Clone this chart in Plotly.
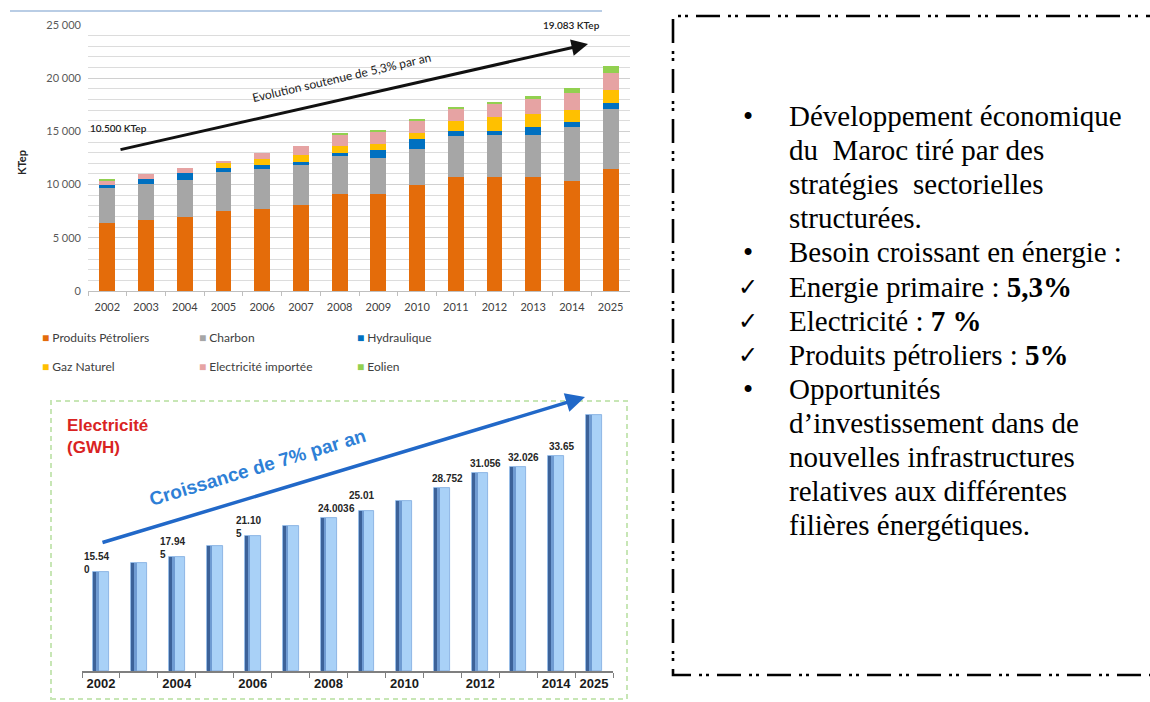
import numpy as np
import plotly.graph_objects as go

# ---------------- data ----------------
years = ["2002", "2003", "2004", "2005", "2006", "2007", "2008",
         "2009", "2010", "2011", "2012", "2013", "2014", "2025"]

# Primary energy consumption by source (KTep)
petroliers = [6400, 6700, 7000, 7550, 7680, 8080, 9090, 9120, 9930, 10690, 10740, 10690, 10340, 11500]
charbon = [3250, 3330, 3450, 3660, 3760, 3760, 3630, 3410, 3420, 3880, 3920, 4010, 5050, 5580]
hydraulique = [310, 470, 630, 320, 370, 310, 280, 720, 910, 500, 410, 750, 470, 560]
gaz_naturel = [0, 0, 0, 470, 570, 600, 630, 570, 620, 910, 1260, 1160, 1150, 1250]
elec_importee = [470, 500, 440, 190, 560, 910, 1100, 1160, 1100, 1130, 1250, 1410, 1600, 1630]
eolien = [70, 0, 0, 0, 0, 0, 90, 150, 190, 210, 210, 340, 473, 630]

series_names = ["Produits Pétroliers", "Charbon", "Hydraulique",
                "Gaz Naturel", "Electricité importée", "Eolien"]
series_colors = ["#e46c0a", "#a6a6a6", "#0070c0", "#ffc000", "#e6a3a3", "#92d050"]

y_ticks = [0, 5000, 10000, 15000, 20000, 25000]
y_ticktext = ["0", "5 000", "10 000", "15 000", "20 000", "25 000"]

# Electricity consumption (GWh)
electricite = [15540, 16880, 17945, 19590, 21105, 22730, 24003,
               25016, 26700, 28752, 31056, 32026, 33650, 40100]
elec_labels = ["15.54<br>0", "", "17.94<br>5", "", "21.10<br>5", "", "24.003",
               "25.01<br>6", "", "28.752", "31.056", "32.026", "33.65", ""]
elec_ticktext = ["2002", "", "2004", "", "2006", "", "2008",
                 "", "2010", "", "2012", "", "2014", "2025"]

# Text panel
panel_marks = ["•", "", "", "", "•", "✓", "✓", "✓", "•", "", "", "", ""]
panel_lines = [
    "Développement économique",
    "du  Maroc tiré par des",
    "stratégies  sectorielles",
    "structurées.",
    "Besoin croissant en énergie :",
    "Energie primaire : <b>5,3%</b>",
    "Electricité : <b>7 %</b>",
    "Produits pétroliers : <b>5%</b>",
    "Opportunités",
    "d’investissement dans de",
    "nouvelles infrastructures",
    "relatives aux différentes",
    "filières énergétiques.",
]

# ---------------- helpers ----------------
W, H = 1150, 702
n = len(years)


def px(x):
    return x / W


def py(y):
    return 1 - y / H


fig = go.Figure()

# Stacked bars (top chart), stacking done through explicit bases
base = np.zeros(n)
for name, vals, col in zip(series_names,
                           [petroliers, charbon, hydraulique, gaz_naturel, elec_importee, eolien],
                           series_colors):
    vals = np.array(vals, dtype=float)
    fig.add_bar(x=years, y=vals, base=base.copy(), name=name, width=0.41,
                marker=dict(color=col, line=dict(width=0)),
                xaxis="x", yaxis="y", showlegend=False, hoverinfo="skip")
    base += vals

# Electricity bars (bottom chart) with a shaded left edge
fig.add_bar(x=years, y=electricite, width=0.42, xaxis="x2", yaxis="y2",
            marker=dict(color="#a9d1f7", line=dict(color="#7eaade", width=0.8)),
            showlegend=False, hoverinfo="skip")
fig.add_bar(x=years, y=electricite, width=0.08, offset=-0.21, xaxis="x2", yaxis="y2",
            marker=dict(color="#3c6299", line=dict(width=0)),
            showlegend=False, hoverinfo="skip")
fig.add_bar(x=years, y=electricite, width=0.07, offset=-0.13, xaxis="x2", yaxis="y2",
            marker=dict(color="#6f9bd2", line=dict(width=0)),
            showlegend=False, hoverinfo="skip")

annotations = []

# Value labels above the electricity bars
for i, (v, lab) in enumerate(zip(electricite, elec_labels)):
    if not lab:
        continue
    two_lines = "<br>" in lab
    annotations.append(dict(
        x=i, y=v, xref="x2", yref="y2", text=lab, showarrow=False,
        xanchor="left" if two_lines else "center", yanchor="bottom",
        xshift=-19 if two_lines else 5, yshift=-5 if two_lines else 2,
        align="left",
        font=dict(family="Liberation Sans", size=10, color="#262626", weight=700)))

# Legend of the stacked chart
leg_x = [40, 197, 355]
leg_y = [337, 366]
for i, (name, col) in enumerate(zip(series_names, series_colors)):
    annotations.append(dict(
        x=px(leg_x[i % 3]), y=py(leg_y[i // 3]), xref="paper", yref="paper",
        xanchor="left", yanchor="middle", showarrow=False,
        text=f"<span style='color:{col}'>■</span> {name}",
        font=dict(family="Lato", size=12, color="#404040")))

# Trend arrows and their captions
annotations += [
    dict(x=px(588), y=py(44), xref="paper", yref="paper", ax=-469, ay=106,
         showarrow=True, arrowhead=2, arrowsize=1.1, arrowwidth=3, arrowcolor="#111111",
         text=""),
    dict(x=px(341), y=py(77), xref="paper", yref="paper", showarrow=False,
         xanchor="center", yanchor="middle",
         text="Evolution soutenue de 5,3% par an", textangle=-13,
         font=dict(family="Lato", size=12, color="#222222")),
    dict(x=px(88), y=py(128), xref="paper", yref="paper", showarrow=False,
         xanchor="left", yanchor="middle", text="10.500 KTep",
         font=dict(family="Lato", size=10, color="#222222", weight=600)),
    dict(x=px(602), y=py(25), xref="paper", yref="paper", showarrow=False,
         xanchor="right", yanchor="middle", text="19.083 KTep",
         font=dict(family="Lato", size=10, color="#222222", weight=600)),
    dict(x=px(21), y=py(163), xref="paper", yref="paper", showarrow=False,
         xanchor="center", yanchor="middle", text="KTep", textangle=-90,
         font=dict(family="Lato", size=11, color="#262626", weight=700)),
    dict(x=px(585), y=py(397), xref="paper", yref="paper", ax=-484, ay=146,
         showarrow=True, arrowhead=2, arrowsize=1.1, arrowwidth=3.5, arrowcolor="#2168c8",
         text=""),
    dict(x=px(257), y=py(467), xref="paper", yref="paper", showarrow=False,
         xanchor="center", yanchor="middle",
         text="Croissance de 7% par an", textangle=-16.8,
         font=dict(family="Liberation Sans", size=19, color="#2e7fd6", weight=700)),
    dict(x=px(65), y=py(414), xref="paper", yref="paper", showarrow=False,
         xanchor="left", yanchor="top", align="left", text="Electricité<br>(GWH)",
         font=dict(family="Liberation Sans", size=17, color="#d92323", weight=700)),
]

# Text panel on the right
first_center, step, fsize = 116, 34.1, 29
for i, (mark, line) in enumerate(zip(panel_marks, panel_lines)):
    yc = first_center + i * step
    if mark:
        is_bullet = mark == "•"
        annotations.append(dict(
            x=px(748), y=py(yc), xref="paper", yref="paper", showarrow=False,
            xanchor="center", yanchor="middle", text=mark,
            font=dict(family="Liberation Serif" if is_bullet else "DejaVu Sans",
                      size=fsize if is_bullet else 24, color="#000000")))
    annotations.append(dict(
        x=px(787), y=py(yc), xref="paper", yref="paper", showarrow=False,
        xanchor="left", yanchor="middle", text=line,
        font=dict(family="Liberation Serif", size=fsize, color="#000000")))

shapes = [
    # thin rule across the top of the stacked chart
    dict(type="line", xref="paper", yref="paper", x0=px(10), x1=px(602), y0=py(11), y1=py(11),
         line=dict(color="#b9cde5", width=2)),
    # dotted frame around the electricity chart
    dict(type="rect", xref="paper", yref="paper", x0=px(51), x1=px(627), y0=py(699), y1=py(401),
         line=dict(color="#c7e6b5", width=2, dash="5px,4px")),
    # dash-dot-dot frame of the text panel
    dict(type="path", xref="paper", yref="paper",
         path=f"M {px(1170)},{py(16)} L {px(673)},{py(16)} L {px(673)},{py(675)} L {px(1170)},{py(675)}",
         line=dict(color="#000000", width=2.6, dash="24px,8px,3px,4px,3px,8px")),
]

fig.update_layout(
    width=W, height=H, autosize=False,
    margin=dict(l=0, r=0, t=0, b=0, autoexpand=False),
    paper_bgcolor="white", plot_bgcolor="white",
    barmode="overlay", bargap=0,
    annotations=annotations, shapes=shapes,
    xaxis=dict(domain=[px(88), px(630)], anchor="y", type="category",
               range=[-0.5, n - 0.5], automargin=False, tickangle=0,
               showline=True, linecolor="#bfbfbf", linewidth=1,
               ticks="outside", tickson="boundaries", ticklen=4, tickcolor="#bfbfbf",
               ticklabelstandoff=6,
               tickfont=dict(family="Lato", size=11, color="#404040"),
               showgrid=False, fixedrange=True),
    yaxis=dict(domain=[py(291), py(25)], anchor="x", range=[0, 25000], automargin=False,
               tickmode="array", tickvals=y_ticks, ticktext=y_ticktext,
               tickfont=dict(family="Lato", size=11, color="#595959"),
               ticklabelstandoff=6,
               showgrid=True, gridcolor="#d0d0d0", gridwidth=1.2,
               minor=dict(tickmode="linear", tick0=0, dtick=1000, showgrid=True,
                          gridcolor="#dcdcdc", gridwidth=1.2),
               zeroline=False, showline=False, fixedrange=True),
    xaxis2=dict(domain=[px(82), px(613)], anchor="y2", type="category",
                range=[-0.5, n - 0.5], automargin=False, tickangle=0,
                showline=True, linecolor="#7f7f7f", linewidth=1.5,
                ticks="outside", tickson="boundaries", ticklen=5, tickcolor="#7f7f7f",
                tickmode="array", tickvals=years, ticktext=elec_ticktext,
                tickfont=dict(family="Liberation Sans", size=13, color="#1a1a1a", weight=700),
                showgrid=False, fixedrange=True),
    yaxis2=dict(domain=[py(671), py(405)], anchor="x2", range=[0, 41690],
                visible=False, fixedrange=True, automargin=False),
)

fig.write_html("out.html")
